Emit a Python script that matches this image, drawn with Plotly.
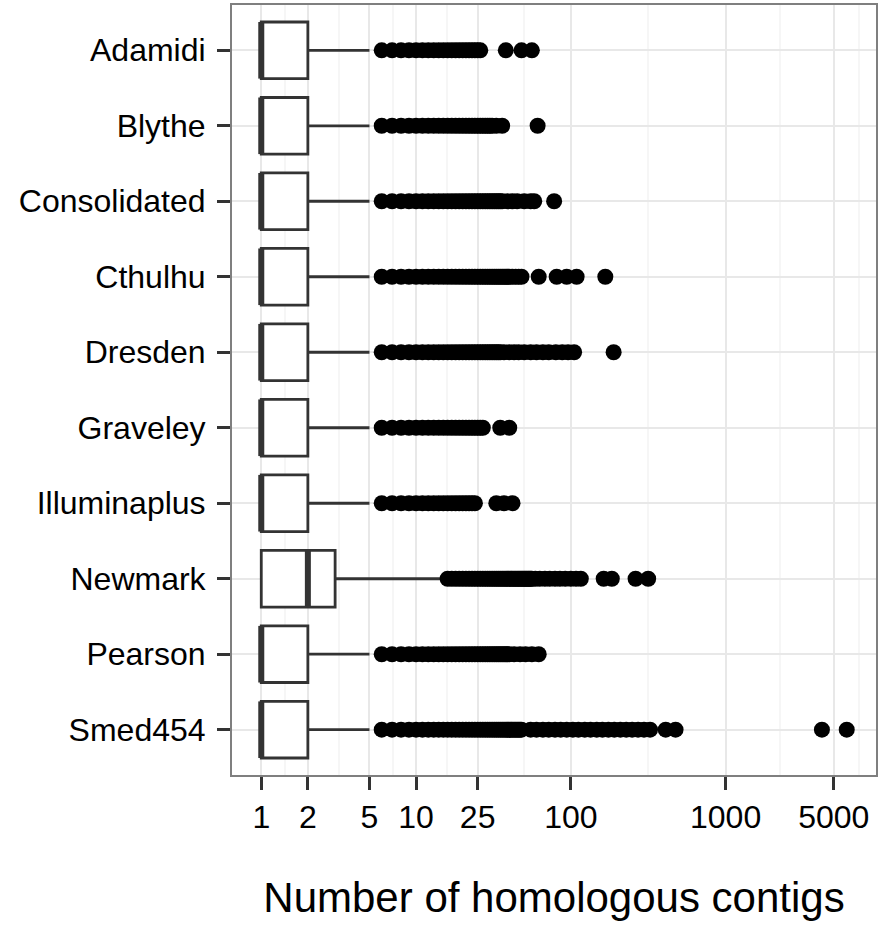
import plotly.graph_objects as go
import math

categories = ["Adamidi", "Blythe", "Consolidated", "Cthulhu", "Dresden",
              "Graveley", "Illuminaplus", "Newmark", "Pearson", "Smed454"]

# box statistics (counts of homologous contigs)
q1 = [1, 1, 1, 1, 1, 1, 1, 1, 1, 1]
median = [1, 1, 1, 1, 1, 1, 1, 2, 1, 1]
q3 = [2, 2, 2, 2, 2, 2, 2, 3, 2, 2]
lowerfence = [1, 1, 1, 1, 1, 1, 1, 1, 1, 1]
upperfence = [5, 5, 5, 5, 5, 5, 5, 15, 5, 5]

# outliers per assembly
out_adamidi = [6, 7, 8, 9, 10, 11, 12, 13, 14, 15, 16, 17, 18, 19, 20, 21, 22, 23, 24, 25, 26,
               38, 48, 56]
out_blythe = [6, 7, 8, 9, 10, 11, 12, 13, 14, 15, 16, 17, 18, 19, 20, 21, 22, 23, 24, 25, 26,
              27, 28, 29, 30, 31, 33, 36, 61]
out_consolidated = [6, 7, 8, 9, 10, 11, 12, 13, 14, 15, 16, 17, 18, 19, 20, 21, 22, 23, 24, 25,
                    26, 27, 28, 29, 30, 31, 32, 33, 34, 35, 36, 39, 42, 45, 50, 55, 58, 78]
out_cthulhu = [6, 7, 8, 9, 10, 11, 12, 13, 14, 15, 16, 17, 18, 19, 20, 21, 22, 23, 24, 25, 26,
               27, 28, 29, 30, 31, 32, 33, 34, 35, 36, 37, 38, 39, 40, 42, 44, 46, 48,
               62, 81, 94, 109, 167]
out_dresden = [6, 7, 8, 9, 10, 11, 12, 13, 14, 15, 16, 17, 18, 19, 20, 21, 22, 23, 24, 25, 26,
               27, 28, 29, 30, 31, 32, 33, 34, 35, 37, 40, 43, 46, 50, 55, 60, 66, 72, 80, 88,
               96, 105, 189]
out_graveley = [6, 7, 8, 9, 10, 11, 12, 13, 14, 15, 16, 17, 18, 19, 20, 21, 22, 23, 24, 25, 26,
                27, 35, 40]
out_illuminaplus = [6, 7, 8, 9, 10, 11, 12, 13, 14, 15, 16, 17, 18, 19, 20, 21, 22, 23, 24,
                    33, 37, 42]
out_newmark = [16, 17, 18, 19, 20, 21, 22, 23, 24, 25, 26, 27, 28, 29, 30, 31, 32, 33, 34, 35,
               36, 37, 38, 39, 40, 41, 42, 43, 44, 45, 46, 47, 48, 49, 50, 51, 52, 53, 54, 55,
               56, 59, 63, 68, 73, 79, 85, 92, 100, 108, 116, 163, 184, 262, 316]
out_pearson = [6, 7, 8, 9, 10, 11, 12, 13, 14, 15, 16, 17, 18, 19, 20, 21, 22, 23, 24, 25, 26,
               27, 28, 29, 30, 31, 32, 33, 34, 35, 36, 37, 38, 39, 40, 43, 47, 51, 56, 62]
out_smed454 = [6, 7, 8, 9, 10, 11, 12, 13, 14, 15, 16, 17, 18, 19, 20, 21, 22, 23, 24, 25, 26,
               27, 28, 29, 30, 31, 32, 33, 34, 35, 36, 37, 38, 39, 40, 41, 42, 43, 44, 45, 46,
               47, 48, 55, 60, 66, 72, 79, 86, 94, 103, 112, 123, 134, 147, 160, 175, 191, 209,
               228, 249, 272, 297, 325, 410, 475, 4190, 6060]

outliers = [out_adamidi, out_blythe, out_consolidated, out_cthulhu, out_dresden,
            out_graveley, out_illuminaplus, out_newmark, out_pearson, out_smed454]

x_tickvals = [1, 2, 5, 10, 25, 100, 1000, 5000]
x_ticktext = ["1", "2", "5", "10", "25", "100", "1000", "5000"]

FONT = "Liberation Sans, Arial, Helvetica, sans-serif"
BOX_W = 0.75
pos = list(range(len(categories)))

fig = go.Figure()

fig.add_trace(go.Box(
    y=pos, q1=q1, median=median, q3=q3,
    lowerfence=lowerfence, upperfence=upperfence,
    orientation="h", width=BOX_W, whiskerwidth=0,
    fillcolor="white", line=dict(color="#333333", width=2.8),
    boxpoints=False, showlegend=False, hoverinfo="skip",
))

# thick median lines (ggplot fatten)
mx, my = [], []
for i, m in enumerate(median):
    mx += [m, m, None]
    my += [i - BOX_W / 2, i + BOX_W / 2, None]
fig.add_trace(go.Scatter(x=mx, y=my, mode="lines",
                         line=dict(color="#333333", width=6),
                         showlegend=False, hoverinfo="skip"))

ox, oy = [], []
for i, vals in enumerate(outliers):
    ox += vals
    oy += [i] * len(vals)
fig.add_trace(go.Scatter(x=ox, y=oy, mode="markers",
                         marker=dict(color="black", size=16, line=dict(width=0)),
                         showlegend=False, hoverinfo="skip"))

lo = math.log10(min(lowerfence))
hi = math.log10(max(ox))
pad = (hi - lo) * 0.05

fig.update_layout(
    width=880, height=925,
    margin=dict(l=232, r=2, t=5, b=150),
    paper_bgcolor="white", plot_bgcolor="white",
    font=dict(family=FONT, color="black"),
    xaxis=dict(
        type="log", range=[lo - pad, hi + pad],
        tickmode="array", tickvals=x_tickvals, ticktext=x_ticktext,
        tickfont=dict(size=32, color="black"),
        ticks="outside", ticklen=13, tickwidth=2.5, tickcolor="#333333",
        showgrid=True, gridcolor="#E8E8E8", gridwidth=1.5,
        minor=dict(tickvals=[1.414, 3.16, 7.07, 15.8, 50, 316, 2236, 7300],
                   showgrid=True, gridcolor="#F6F6F6", gridwidth=1.5, ticks=""),
        showline=True, linecolor="#7F7F7F", linewidth=2, mirror=True,
        zeroline=False,
        title=dict(text="Number of homologous contigs",
                   font=dict(size=42, color="black"), standoff=48),
    ),
    yaxis=dict(
        tickmode="array", tickvals=pos, ticktext=categories,
        range=[len(categories) - 0.4, -0.6],
        tickfont=dict(size=32, color="black"),
        ticks="outside", ticklen=13, tickwidth=2.5, tickcolor="#333333",
        ticklabelstandoff=5,
        showgrid=True, gridcolor="#E8E8E8", gridwidth=1.5,
        showline=True, linecolor="#7F7F7F", linewidth=2, mirror=True,
        zeroline=False,
    ),
)

fig.write_html("out.html")
